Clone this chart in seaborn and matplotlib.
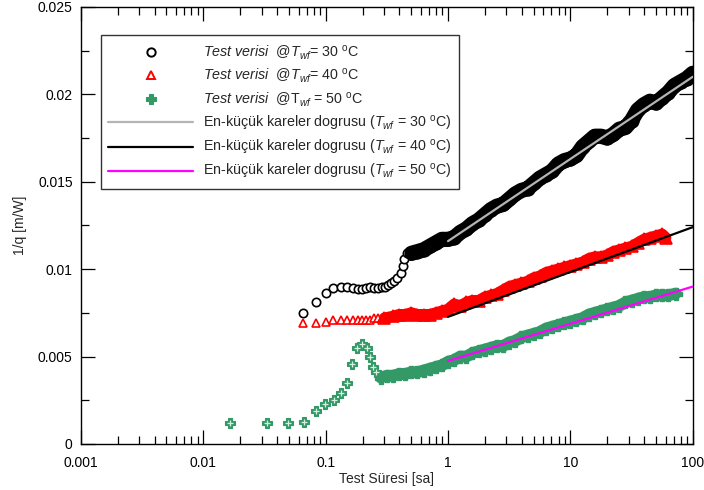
import numpy as np
import pandas as pd
import matplotlib
matplotlib.use("Agg")
import matplotlib.pyplot as plt
from matplotlib.lines import Line2D
import seaborn as sns

# --- Test verisi @ Twf = 30 C -------------------------------------------
t30_sparse = [0.065, 0.083, 0.100, 0.114, 0.133, 0.149, 0.166, 0.183, 0.198,
              0.215, 0.232, 0.250, 0.268, 0.287, 0.305, 0.325, 0.345, 0.365,
              0.380, 0.410, 0.425, 0.440, 0.460]
v30_sparse = [0.0075, 0.0081, 0.00864, 0.0089, 0.0090, 0.0090, 0.0089, 0.00887,
              0.00887, 0.0089, 0.0090, 0.0089, 0.0089, 0.0090, 0.0090, 0.0091,
              0.0092, 0.0093, 0.0095, 0.0098, 0.0102, 0.0106, 0.0109]
L30_dense = [-0.30, -0.25, -0.20, -0.15, -0.10, -0.05, 0.00, 0.05, 0.10, 0.15,
             0.20, 0.25, 0.30, 0.35, 0.40, 0.45, 0.50, 0.55, 0.60, 0.65, 0.70,
             0.75, 0.80, 0.85, 0.90, 0.95, 1.00, 1.05, 1.10, 1.15, 1.20, 1.25,
             1.30, 1.35, 1.40, 1.45, 1.50, 1.55, 1.60, 1.65, 1.70, 1.75, 1.80,
             1.85, 1.90, 1.95, 2.00]
v30_dense = [0.0109, 0.0110, 0.0111, 0.0113, 0.0115, 0.0117, 0.0117, 0.0118,
             0.0121, 0.0123, 0.0126, 0.0128, 0.0131, 0.0134, 0.0136, 0.0137,
             0.0140, 0.0143, 0.0145, 0.0146, 0.0149, 0.0152, 0.0154, 0.0156,
             0.0160, 0.0162, 0.0163, 0.0165, 0.0170, 0.0173, 0.0176, 0.0176,
             0.0175, 0.0177, 0.0180, 0.0181, 0.0185, 0.0191, 0.0194, 0.0196,
             0.0195, 0.0198, 0.0201, 0.0205, 0.0207, 0.0209, 0.0212]

# --- Test verisi @ Twf = 40 C -------------------------------------------
t40_sparse = [0.065, 0.083, 0.100, 0.114, 0.133, 0.149, 0.166, 0.183, 0.198,
              0.215, 0.232, 0.250, 0.268, 0.287]
v40_sparse = [0.0069, 0.0069, 0.0070, 0.0071, 0.0071, 0.0071, 0.0071, 0.0071,
              0.0071, 0.0071, 0.0071, 0.0072, 0.0072, 0.0072]
L40_dense = [-0.52, -0.45, -0.40, -0.35, -0.30, -0.25, -0.20, -0.15, -0.10,
             -0.05, 0.00, 0.05, 0.10, 0.15, 0.20, 0.25, 0.30, 0.35, 0.40, 0.45,
             0.50, 0.55, 0.60, 0.65, 0.70, 0.75, 0.80, 0.85, 0.90, 0.95, 1.00,
             1.05, 1.10, 1.15, 1.20, 1.25, 1.30, 1.35, 1.40, 1.45, 1.50, 1.55,
             1.60, 1.65, 1.70, 1.75, 1.78]
v40_dense = [0.0072, 0.0073, 0.0074, 0.0074, 0.0075, 0.0074, 0.0074, 0.0074,
             0.0075, 0.0076, 0.0077, 0.0080, 0.0079, 0.0081, 0.0082, 0.0082,
             0.0084, 0.0085, 0.0086, 0.0088, 0.0090, 0.0091, 0.0092, 0.0093,
             0.0095, 0.0096, 0.0098, 0.0099, 0.0100, 0.0101, 0.0102, 0.0103,
             0.0104, 0.0106, 0.0107, 0.0107, 0.0108, 0.0110, 0.0111, 0.0112,
             0.0113, 0.0115, 0.0117, 0.0118, 0.0119, 0.0120, 0.0118]

# --- Test verisi @ Twf = 50 C -------------------------------------------
t50_sparse = [0.0165, 0.033, 0.049, 0.066, 0.083, 0.098, 0.117, 0.133, 0.149,
              0.164, 0.180, 0.198, 0.216, 0.230, 0.243, 0.260]
v50_sparse = [0.0012, 0.0012, 0.0012, 0.00126, 0.0019, 0.0023, 0.0025, 0.0029,
              0.0035, 0.0046, 0.0055, 0.0057, 0.0055, 0.0050, 0.0044, 0.0041]
L50_dense = [-0.55, -0.50, -0.45, -0.40, -0.35, -0.30, -0.25, -0.20, -0.15,
             -0.10, -0.05, 0.00, 0.05, 0.10, 0.15, 0.20, 0.25, 0.30, 0.35, 0.40,
             0.45, 0.50, 0.55, 0.60, 0.65, 0.70, 0.75, 0.80, 0.85, 0.90, 0.95,
             1.00, 1.05, 1.10, 1.15, 1.20, 1.25, 1.30, 1.35, 1.40, 1.45, 1.50,
             1.55, 1.60, 1.65, 1.70, 1.75, 1.80, 1.86]
v50_dense = [0.0038, 0.0039, 0.0039, 0.0040, 0.0040, 0.0041, 0.0041, 0.0042,
             0.0043, 0.0044, 0.0045, 0.0047, 0.0048, 0.0050, 0.0050, 0.0052,
             0.0053, 0.0054, 0.0055, 0.0056, 0.0056, 0.0058, 0.0059, 0.0061,
             0.0062, 0.0063, 0.0064, 0.0066, 0.0067, 0.0068, 0.0069, 0.0070,
             0.0071, 0.0072, 0.0074, 0.0075, 0.0076, 0.0077, 0.0078, 0.0079,
             0.0081, 0.0082, 0.0083, 0.0084, 0.0084, 0.0085, 0.0085, 0.0085,
             0.0086]

# --- En-kucuk kareler dogrusu (uc noktalar) -----------------------------
t_fit = [1.0, 100.0]
fit30 = [0.0116, 0.0210]
fit40 = [0.00727, 0.0124]
fit50 = [0.00475, 0.0090]

C30 = "black"
C40 = "#ff0000"
C50 = "#339966"

sns.set_theme(style="ticks")
plt.rcParams["font.family"] = ["Liberation Sans", "DejaVu Sans"]
plt.rcParams["mathtext.fontset"] = "custom"
plt.rcParams["mathtext.rm"] = "Liberation Sans"
plt.rcParams["mathtext.it"] = "Liberation Sans:italic"
plt.rcParams["mathtext.bf"] = "Liberation Sans:bold"

fig = plt.figure(figsize=(7.04, 4.9), dpi=100)
ax = fig.add_axes([0.115, 0.094, 0.869, 0.892])


def dense_df(L, v):
    return pd.DataFrame({"t": np.power(10.0, L), "v": v})


d30 = dense_df(L30_dense, v30_dense)
d40 = dense_df(L40_dense, v40_dense)
d50 = dense_df(L50_dense, v50_dense)

# dense bands (many overlapping markers in the original)
for d, c, lw in [(d30, C30, 11), (d40, C40, 8), (d50, C50, 8.5)]:
    sns.lineplot(data=d, x="t", y="v", ax=ax, color=c, lw=lw, sort=False,
                 estimator=None, solid_capstyle="round", zorder=2)

# markers
ax.plot(t30_sparse, v30_sparse, ls="none", marker="o", ms=6, mfc="white",
        mec=C30, mew=1.2, zorder=3)
ax.plot(d30["t"], d30["v"], ls="none", marker="o", ms=9, mfc=C30,
        mec=C30, mew=1.2, zorder=3)
ax.plot(t40_sparse, v40_sparse, ls="none", marker="^", ms=6, mfc="white",
        mec=C40, mew=1.2, zorder=3)
ax.plot(d40["t"], d40["v"], ls="none", marker="^", ms=8, mfc=C40,
        mec=C40, mew=1.2, zorder=3)
ax.plot(t50_sparse, v50_sparse, ls="none", marker="P", ms=7.5, mfc=C50,
        mec=C50, mew=0.8, zorder=3)
ax.plot(t50_sparse, v50_sparse, ls="none", marker="+", ms=4.5, mec="#d8eee0",
        mew=0.9, zorder=4)
ax.plot(d50["t"], d50["v"], ls="none", marker="P", ms=8, mfc=C50,
        mec=C50, mew=1.0, zorder=3)

# fit lines
sns.lineplot(x=t_fit, y=fit30, ax=ax, color="#b4b4b4", lw=1.6, zorder=5)
sns.lineplot(x=t_fit, y=fit40, ax=ax, color="black", lw=1.6, zorder=5)
sns.lineplot(x=t_fit, y=fit50, ax=ax, color="#ff00ff", lw=1.6, zorder=5)

ax.set_xscale("log")
ax.set_xlim(0.001, 100)
ax.set_ylim(0, 0.025)
ax.set_xticks([0.001, 0.01, 0.1, 1, 10, 100])
ax.set_xticklabels(["0.001", "0.01", "0.1", "1", "10", "100"])
ax.set_yticks([0, 0.005, 0.01, 0.015, 0.02, 0.025])
ax.set_yticklabels(["0", "0.005", "0.01", "0.015", "0.02", "0.025"])
ax.set_yticks([0.0025, 0.0075, 0.0125, 0.0175, 0.0225], minor=True)
ax.tick_params(which="both", direction="in", top=True, right=True,
               labelsize=10, colors="black", width=0.9)
ax.tick_params(which="major", length=10, pad=6)
ax.tick_params(axis="x", which="major", pad=9)
ax.tick_params(which="minor", length=6)
for s in ax.spines.values():
    s.set_color("black")
    s.set_linewidth(1.0)

ax.set_xlabel("Test Süresi [sa]", fontsize=10, labelpad=1)
ax.set_ylabel("1/q [m/W]", fontsize=10, labelpad=8)

handles = [
    Line2D([], [], ls="none", marker="o", ms=6, mfc="white", mec=C30, mew=1.4),
    Line2D([], [], ls="none", marker="^", ms=6, mfc="white", mec=C40, mew=1.4),
    Line2D([], [], ls="none", marker="P", ms=7, mfc=C50, mec=C50, mew=0.8),
    Line2D([], [], color="#b4b4b4", lw=1.6),
    Line2D([], [], color="black", lw=1.6),
    Line2D([], [], color="#ff00ff", lw=1.6),
]
labels = [
    r"$\it{Test\ verisi}$  @$T_{wf}$= 30 $^{\rm o}$C",
    r"$\it{Test\ verisi}$  @$T_{wf}$= 40 $^{\rm o}$C",
    r"$\it{Test\ verisi}$  @T$_{wf}$ = 50 $^{\rm o}$C",
    r"En-küçük kareler dogrusu ($T_{wf}$ = 30 $^{\rm o}$C)",
    r"En-küçük kareler dogrusu ($T_{wf}$ = 40 $^{\rm o}$C)",
    r"En-küçük kareler dogrusu ($T_{wf}$ = 50 $^{\rm o}$C)",
]
leg = ax.legend(handles, labels, loc="upper left",
                bbox_to_anchor=(0.032, 0.935), fontsize=10.3, frameon=True,
                fancybox=False, handlelength=5.9, handletextpad=0.7,
                labelspacing=0.36, borderpad=0.55, borderaxespad=0)
leg.get_frame().set_edgecolor("black")
leg.get_frame().set_linewidth(1.0)

fig.savefig("out.png", dpi=100)
